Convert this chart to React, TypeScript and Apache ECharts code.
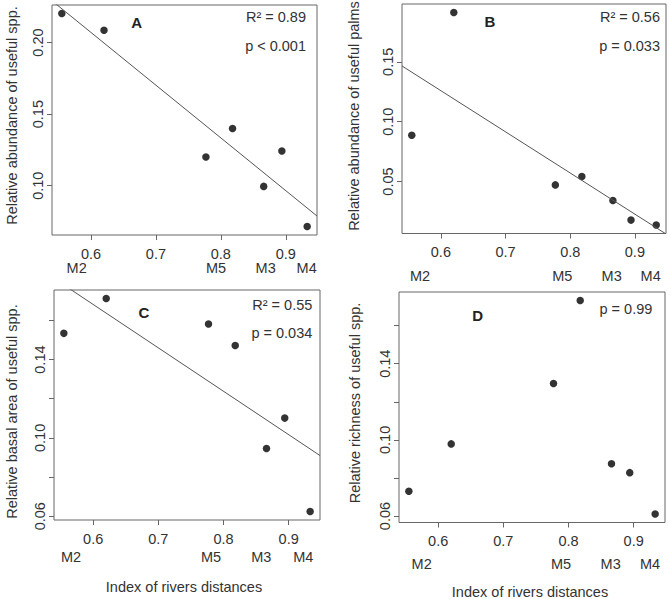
import React, { useEffect, useRef } from "react";
import * as echarts from "echarts";

// Index of rivers distances for the seven sites
const riverIndex = [0.555, 0.62, 0.777, 0.818, 0.866, 0.894, 0.933];
// Panel values
const usefulAbundance = [0.2203, 0.2086, 0.12, 0.14, 0.0995, 0.1242, 0.0715];
const palmAbundance = [0.0887, 0.1912, 0.0472, 0.0542, 0.0342, 0.0178, 0.0137];
const basalArea = [0.1534, 0.1712, 0.1582, 0.1472, 0.0946, 0.1101, 0.0624];
const richness = [0.073, 0.0979, 0.1296, 0.1732, 0.0875, 0.0828, 0.0611];

const xTicks = [0.6, 0.7, 0.8, 0.9];
const yTicksA = [0.1, 0.15, 0.2];
const yTicksB = [0.05, 0.1, 0.15];
const yTicksCD = [0.06, 0.08, 0.1, 0.12, 0.14, 0.16];
const yLabelsCD = [0.06, 0.1, 0.14];

const siteLabels = ["M2", "M5", "M3", "M4"];
const panelLetters = ["A", "B", "C", "D"];
const yTitles = [
  "Relative abundance of useful spp.",
  "Relative abundance of useful palms",
  "Relative basal area of useful spp.",
  "Relative richness of useful spp.",
];
const xTitle = "Index of rivers distances";
const statsR2 = ["R² = 0.89", "R² = 0.56", "R² = 0.55", ""];
const statsP = ["p < 0.001", "p = 0.033", "p = 0.034", "p = 0.99"];
const showFit = [true, true, true, false];

const FONT = "'Liberation Sans', Arial, sans-serif";
const TEXT = "#333";
const BOX = "#666";

const panelValues = [usefulAbundance, palmAbundance, basalArea, richness];
const panelYTicks = [yTicksA, yTicksB, yTicksCD, yTicksCD];
const panelYLabels = [yTicksA, yTicksB, yLabelsCD, yLabelsCD];

// layout (pixels)
const grids = [
  { left: 52, top: 5, width: 265, height: 230 },
  { left: 402, top: 4, width: 264, height: 229.5 },
  { left: 54, top: 290, width: 266, height: 230 },
  { left: 399, top: 292, width: 266, height: 230.5 },
];
const letterPos = [
  [136.7, 22.7],
  [490, 21.7],
  [144, 312.7],
  [477.7, 315],
];
const r2Pos = [
  [306, 17.3],
  [660, 17.3],
  [312.3, 305],
  [0, 0],
];
const pPos = [
  [306, 45.7],
  [660, 45.7],
  [312.3, 333.3],
  [652.3, 309],
];
const siteY = [268.3, 276, 556.7, 564.3];
const siteX = [
  [76.7, 216, 265.7, 306.7],
  [420, 562.3, 611.7, 650.7],
  [71, 211, 261.3, 303.3],
  [421.7, 561, 610.7, 650],
];
const yTitlePos = [
  [12, 115.5],
  [354, 116],
  [12, 411.5],
  [355, 403],
];
const xTitlePos = [
  [184, 586.7],
  [530, 591.7],
];

function padRange(v: number[]) {
  const mn = Math.min(...v);
  const mx = Math.max(...v);
  const d = (mx - mn) * 0.04;
  return [mn - d, mx + d];
}

function ols(x: number[], y: number[]) {
  const n = x.length;
  const mx = x.reduce((a, b) => a + b, 0) / n;
  const my = y.reduce((a, b) => a + b, 0) / n;
  let sxy = 0;
  let sxx = 0;
  for (let i = 0; i < n; i++) {
    sxy += (x[i] - mx) * (y[i] - my);
    sxx += (x[i] - mx) ** 2;
  }
  const b = sxy / sxx;
  return { a: my - b * mx, b };
}

export default function App() {
  const ref = useRef<HTMLDivElement>(null);
  useEffect(() => {
    if (!ref.current) return;
    const chart = echarts.init(ref.current, undefined, { renderer: "svg" });
    const [xmin, xmax] = padRange(riverIndex);

    const xAxes: any[] = [];
    const yAxes: any[] = [];
    const series: any[] = [];
    const graphics: any[] = [];

    for (let i = 0; i < 4; i++) {
      const vals = panelValues[i];
      const [ymin, ymax] = padRange(vals);
      xAxes.push({
        type: "value",
        gridIndex: i,
        min: xmin,
        max: xmax,
        splitLine: { show: false },
        axisLine: { show: false },
        axisTick: { show: true, length: 5, lineStyle: { color: BOX }, customValues: xTicks },
        axisLabel: {
          customValues: xTicks,
          margin: 11,
          color: TEXT,
          fontSize: 14.5,
          fontFamily: FONT,
          formatter: (v: number) => v.toFixed(1),
        },
      });
      yAxes.push({
        type: "value",
        gridIndex: i,
        min: ymin,
        max: ymax,
        splitLine: { show: false },
        axisLine: { show: false },
        axisTick: { show: true, length: 5, lineStyle: { color: BOX }, customValues: panelYTicks[i] },
        axisLabel: {
          customValues: panelYLabels[i],
          rotate: 90,
          margin: 7,
          color: TEXT,
          fontSize: 14.5,
          fontFamily: FONT,
          formatter: (v: number) => v.toFixed(2),
        },
      });
      series.push({
        type: "scatter",
        xAxisIndex: i,
        yAxisIndex: i,
        symbol: "circle",
        symbolSize: 7.5,
        itemStyle: { color: "#000" },
        data: riverIndex.map((x, k) => [x, vals[k]]),
        clip: false,
      });
      if (showFit[i]) {
        const { a, b } = ols(riverIndex, vals);
        series.push({
          type: "line",
          xAxisIndex: i,
          yAxisIndex: i,
          symbol: "none",
          clip: true,
          lineStyle: { color: "#555", width: 1 },
          data: [
            [xmin, a + b * xmin],
            [xmax, a + b * xmax],
          ],
        });
      }

      // panel letter
      graphics.push({
        type: "text",
        x: letterPos[i][0],
        y: letterPos[i][1],
        style: {
          text: panelLetters[i],
          fill: "#222",
          font: `bold 15px ${FONT}`,
          align: "center",
          verticalAlign: "middle",
        },
      });
      if (statsR2[i]) {
        graphics.push({
          type: "text",
          x: r2Pos[i][0],
          y: r2Pos[i][1],
          style: {
            text: statsR2[i],
            fill: TEXT,
            font: `14.5px ${FONT}`,
            align: "right",
            verticalAlign: "middle",
          },
        });
      }
      graphics.push({
        type: "text",
        x: pPos[i][0],
        y: pPos[i][1],
        style: {
          text: statsP[i],
          fill: TEXT,
          font: `14.5px ${FONT}`,
          align: "right",
          verticalAlign: "middle",
        },
      });
      siteLabels.forEach((s, k) => {
        graphics.push({
          type: "text",
          x: siteX[i][k],
          y: siteY[i],
          style: {
            text: s,
            fill: TEXT,
            font: `14.5px ${FONT}`,
            align: "center",
            verticalAlign: "middle",
          },
        });
      });
      graphics.push({
        type: "text",
        x: yTitlePos[i][0],
        y: yTitlePos[i][1],
        rotation: Math.PI / 2,
        style: {
          text: yTitles[i],
          fill: TEXT,
          font: `14.5px ${FONT}`,
          align: "center",
          verticalAlign: "middle",
        },
      });
    }
    xTitlePos.forEach((p) => {
      graphics.push({
        type: "text",
        x: p[0],
        y: p[1],
        style: {
          text: xTitle,
          fill: TEXT,
          font: `14.5px ${FONT}`,
          align: "center",
          verticalAlign: "middle",
        },
      });
    });

    chart.setOption({
      animation: false,
      backgroundColor: "#fff",
      grid: grids.map((g) => ({
        ...g,
        show: true,
        borderColor: BOX,
        borderWidth: 1,
        backgroundColor: "transparent",
      })),
      xAxis: xAxes,
      yAxis: yAxes,
      series,
      graphic: graphics,
    });
    return () => chart.dispose();
  }, []);
  return (
    <div
      ref={ref}
      style={{ position: "fixed", left: 0, top: 0, width: 671, height: 599, background: "#fff" }}
    />
  );
}
